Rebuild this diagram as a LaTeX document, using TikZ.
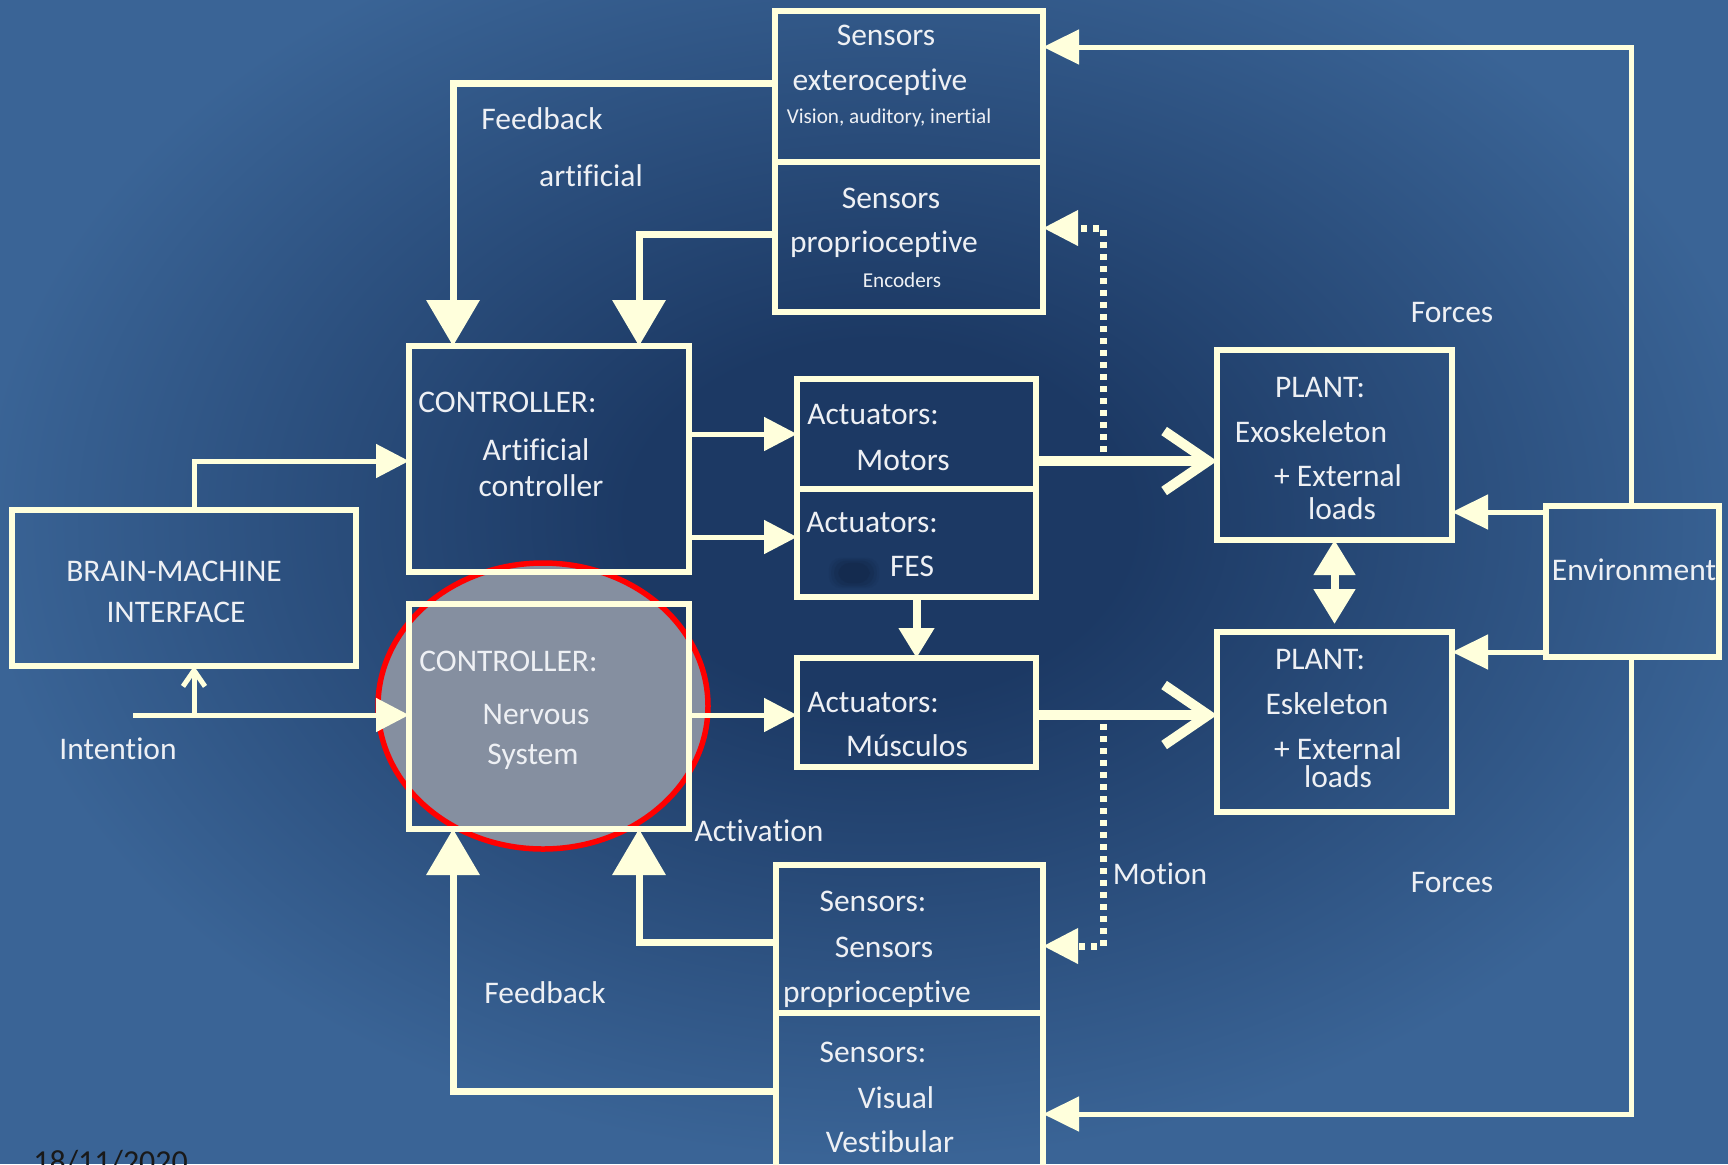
\documentclass[tikz,border=0pt]{standalone}
\usepackage{fontspec}
\setmainfont[Ligatures={NoCommon}]{Carlito}
\usetikzlibrary{arrows.meta}
\definecolor{bgedge}{HTML}{3A6496}
\definecolor{bgdark}{HTML}{1C3964}
\definecolor{cream}{HTML}{FFFFDC}
\definecolor{txt}{HTML}{EEF0F4}
\definecolor{ngray}{HTML}{858FA0}
\definecolor{blot}{HTML}{132646}
\pgfdeclareradialshading{vign}{\pgfpoint{0bp}{0bp}}{color(0bp)=(bgdark); color(7bp)=(bgdark); color(25bp)=(bgedge); color(50bp)=(bgedge)}

\begin{document}
\begin{tikzpicture}[x=0.5pt,y=-0.5pt,
  box/.style={draw=cream, line width=3pt, inner sep=0pt, outer sep=0pt},
  lbl/.style={text=txt, inner sep=0pt, text height=0.64em, text depth=0pt, yshift=-2.2pt,
              font=\fontsize{15.75pt}{18pt}\selectfont},
  small/.style={lbl, yshift=1.6pt, font=\fontsize{10.6pt}{12pt}\selectfont},
  link/.style={draw=cream, line width=2.5pt, -{Triangle[length=16.5pt,width=16.5pt]}},
  fb/.style={draw=cream, line width=3.5pt, -{Triangle[length=23pt,width=26pt]}},
  envlink/.style={draw=cream, line width=2.5pt, -{Triangle[length=18pt,width=17pt]}},
  heavy/.style={draw=cream, line width=5pt, -{Straight Barb[length=22pt,width=30pt]}},
  motion/.style={draw=cream, line width=3.5pt, dash pattern=on 3pt off 3pt,
                 -{Triangle[length=17.5pt,width=17pt]}},
  both/.style={draw=cream, line width=4pt, {Triangle[length=17.5pt,width=20pt]}-{Triangle[length=17.5pt,width=20pt]}}
]
\clip (0,0) rectangle (1728,1164);

% background with darker centre
\fill[bgedge] (0,0) rectangle (1728,1164);
\shade[shading=vign] (880,520) ellipse [x radius=900, y radius=640];

% highlight of the nervous-system controller
\path[fill=ngray, draw=red, line width=2.75pt] (543,706) ellipse [x radius=165, y radius=143];

% small dark smudge in the FES box
\foreach \o in {0.12,0.18,0.25,0.35}{
  \fill[blot, opacity=\o, rounded corners=6pt] (854-30+\o*40,573-18+\o*22) rectangle (854+30-\o*40,573+18-\o*22);
}

% blocks
\node[box, minimum width=134pt, minimum height=75.5pt] (sext) at (909,86.5) {};
\node[box, minimum width=134pt, minimum height=75pt] (sprop) at (909,237) {};
\node[box, minimum width=140pt, minimum height=113pt] (ca) at (549,459) {};
\node[box, minimum width=140pt, minimum height=112.5pt] (cn) at (549,716.5) {};
\node[box, minimum width=172pt, minimum height=78pt] (bmi) at (184,588) {};
\node[box, minimum width=119.5pt, minimum height=55pt] (am) at (916.5,434) {};
\node[box, minimum width=119.5pt, minimum height=54pt] (af) at (916.5,543) {};
\node[box, minimum width=119.5pt, minimum height=54.5pt] (amu) at (916.5,712.5) {};
\node[box, minimum width=117.5pt, minimum height=95pt] (pexo) at (1334.5,445) {};
\node[box, minimum width=117.5pt, minimum height=90pt] (pesk) at (1334.5,722) {};
\node[box, minimum width=86.5pt, minimum height=75.5pt] (env) at (1632.5,581.5) {};
\node[box, minimum width=133.5pt, minimum height=74pt] (ssp) at (909.5,939) {};
\node[box, minimum width=133.5pt, minimum height=83.5pt] (svv) at (909.5,1096.5) {};

% routing points
\coordinate (k1) at (453,83);
\coordinate (k2) at (639,234);
\coordinate (k3) at (194,461);
\coordinate (k5) at (700,537);
\coordinate (k6) at (133,715);
\coordinate (k7) at (194,715);
\coordinate (k8) at (1100,461);
\coordinate (k9) at (1103,452);
\coordinate (k10) at (1103,228);
\coordinate (k11) at (1103,724);
\coordinate (k12) at (1103,946);
\coordinate (k13) at (1500,512);
\coordinate (k14) at (1500,652);
\coordinate (k15) at (1631,47);
\coordinate (k16) at (1631,1114);
\coordinate (k17) at (639,942);
\coordinate (k18) at (453,1091);

% artificial feedback
\draw[fb] (sext.west |- k1) -- (k1) -- (ca.north -| k1);
\draw[fb] (sprop.west |- k2) -- (k2) -- (ca.north -| k2);
% natural feedback
\draw[fb] (ssp.west |- k17) -- (k17) -- (cn.south -| k17);
\draw[fb] (svv.west |- k18) -- (k18) -- (cn.south -| k18);

% intention and commands
\draw[link] (bmi.north -| k3) -- (k3) -- (ca.west |- k3);
\draw[link] (k6) -- (cn.west |- k6);
\draw[draw=cream, line width=2.5pt, -{Straight Barb[length=8pt,width=11pt]}] (k7) -- (bmi.south -| k7);
\draw[link] (ca.east |- am.west) -- (am.west);
\draw[link] (ca.east |- k5) -- (af.west |- k5);
\draw[link] (cn.east |- k6) -- (amu.west |- k6);
\draw[draw=cream, line width=4pt, -{Triangle[length=15pt,width=17pt]}] (af.south) -- (amu.north);

% actuation of the plants
\draw[heavy] (am.east |- k8) -- (pexo.west |- k8);
\draw[heavy] (amu.east |- k6) -- (pesk.west |- k6);
\draw[both, shorten >=4pt] (pexo.south) -- (pesk.north);

% motion sensed
\draw[motion] (k9) -- (k10) -- (sprop.east |- k10);
\draw[motion] (k11) -- (k12) -- (ssp.east |- k12);

% environment
\draw[envlink] (env.west |- k13) -- (pexo.east |- k13);
\draw[envlink] (env.west |- k14) -- (pesk.east |- k14);
\draw[envlink] (env.north -| k15) -- (k15) -- (sext.east |- k15);
\draw[envlink] (env.south -| k16) -- (k16) -- (svv.east |- k16);

% block texts
\node[lbl] (t1) at (886,35) {Sensors};
\node[lbl] (t2) at (880,80) {exteroceptive};
\node[small] (t3) at (889,116) {Vision, auditory, inertial};
\node[lbl] (t4) at (891,198) {Sensors};
\node[lbl] (t5) at (884,242) {proprioceptive};
\node[small] (t6) at (902,280) {Encoders};

\node[lbl, anchor=west] (t7) at (418,402) {CONTROLLER:};
\node[lbl] (t8) at (536,450) {Artificial};
\node[lbl] (t9) at (541,486) {controller};

\node[lbl, anchor=west] (t10) at (419,661) {CONTROLLER:};
\node[lbl] (t11) at (536,714) {Nervous};
\node[lbl] (t12) at (533,754) {System};

\node[lbl] (t13) at (174,571) {BRAIN-MACHINE};
\node[lbl] (t14) at (176,612) {INTERFACE};

\node[lbl, anchor=west] (t15) at (807,414) {Actuators:};
\node[lbl] (t16) at (903,460) {Motors};
\node[lbl, anchor=west] (t17) at (806,522) {Actuators:};
\node[lbl] (t18) at (912,566) {FES};
\node[lbl, anchor=west] (t19) at (807,702) {Actuators:};
\node[lbl] (t20) at (907,746) {Músculos};

\node[lbl] (t21) at (1320,387) {PLANT:};
\node[lbl] (t22) at (1311,432) {Exoskeleton};
\node[lbl] (t23) at (1338,476) {+ External};
\node[lbl] (t24) at (1342,509) {loads};
\node[lbl] (t25) at (1320,659) {PLANT:};
\node[lbl] (t26) at (1327,704) {Eskeleton};
\node[lbl] (t27) at (1338,749) {+ External};
\node[lbl] (t28) at (1338,777) {loads};

\node[lbl] (t29) at (1634,570) {Environment};

\node[lbl] (t30) at (873,901) {Sensors:};
\node[lbl] (t31) at (884,947) {Sensors};
\node[lbl] (t32) at (877,992) {proprioceptive};
\node[lbl] (t33) at (873,1052) {Sensors:};
\node[lbl] (t34) at (896,1098) {Visual};
\node[lbl] (t35) at (890,1142) {Vestibular};

% free labels
\node[lbl] (l1) at (542,119) {Feedback};
\node[lbl] (l2) at (591,176) {artificial};
\node[lbl] (l3) at (1452,312) {Forces};
\node[lbl] (l4) at (118,749) {Intention};
\node[lbl] (l5) at (759,831) {Activation};
\node[lbl] (l6) at (1160,874) {Motion};
\node[lbl] (l7) at (1452,882) {Forces};
\node[lbl] (l8) at (545,993) {Feedback};

\node[anchor=base west, inner sep=0pt, text=black!90, font=\fontsize{16pt}{19pt}\selectfont] (date) at (33,1172) {18/11/2020};
\end{tikzpicture}
\end{document}
